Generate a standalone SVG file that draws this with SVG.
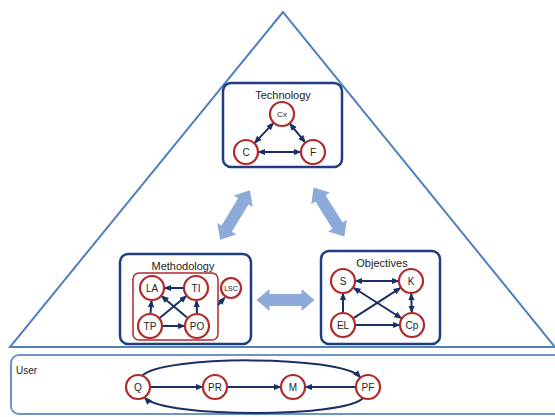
<svg xmlns="http://www.w3.org/2000/svg" width="555" height="417" viewBox="0 0 555 417">
<style>
.box{fill:#fff;stroke:#1f3f80;stroke-width:2.5}
.nd circle{fill:#fff;stroke:#b02a2a;stroke-width:2.2}
.nd text{font-family:"Liberation Sans",Arial,sans-serif;font-size:10px;fill:#222;text-anchor:middle;dominant-baseline:central}
.title{font-family:"Liberation Sans",Arial,sans-serif;font-size:11px;fill:#222;text-anchor:middle}
.e{stroke:#1a2f66;stroke-width:2;fill:none;marker-end:url(#ah)}
.d{marker-start:url(#ah)}
.big{fill:#8eaadb}
</style>
<defs>
<marker id="ah" viewBox="0 0 10 10" refX="8" refY="5" markerWidth="4" markerHeight="4" orient="auto-start-reverse" markerUnits="strokeWidth">
<path d="M0,1 L10,5 L0,9 z" fill="#1a2f66"/>
</marker>
<polygon id="dbl" points="-29,0 -16,-11 -16,-6 16,-6 16,-11 29,0 16,11 16,6 -16,6 -16,11"/>
</defs>
<polygon points="283,12 10,347 555,347" fill="none" stroke="#4f81bd" stroke-width="2"/>
<rect x="11" y="355" width="560" height="59" rx="8" fill="#fff" stroke="#6d93c8" stroke-width="2"/>
<text x="16" y="374" style="font-family:'Liberation Sans',Arial,sans-serif;font-size:10px;fill:#222">User</text>
<g id="bigarrows" class="big">
<use href="#dbl" transform="translate(235,215) rotate(121)"/>
<use href="#dbl" transform="translate(329,212) rotate(58)"/>
<use href="#dbl" transform="translate(285.5,300)"/>
</g>
<g id="technology">
<rect class="box" x="223" y="83" width="119" height="84" rx="8"/>
<text class="title" x="283" y="99">Technology</text>
</g>
<g id="methodology">
<rect class="box" x="120" y="254" width="131" height="90" rx="8"/>
<text class="title" x="183" y="270">Methodology</text>
<rect x="133" y="273" width="85" height="67" rx="6" fill="none" stroke="#b02a2a" stroke-width="1.5"/>
</g>
<g id="objectives">
<rect class="box" x="321" y="251" width="119" height="93" rx="8"/>
<text class="title" x="382" y="267">Objectives</text>
</g>
<g id="connectors">
<line class="e d" x1="273" y1="123.4" x2="255" y2="142.6"/>
<line class="e d" x1="290.2" y1="124.1" x2="304.8" y2="141.9"/>
<line class="e d" x1="259" y1="152" x2="300" y2="152"/>
<line class="e" x1="183" y1="288" x2="165" y2="288"/>
<line class="e" x1="150.5" y1="313" x2="151.5" y2="301"/>
<line class="e" x1="197" y1="313" x2="196.5" y2="301"/>
<line class="e" x1="160" y1="317.7" x2="186" y2="296.3"/>
<line class="e" x1="187" y1="317.6" x2="162" y2="296.4"/>
<line class="e" x1="163" y1="326" x2="184" y2="326"/>
<line class="e" x1="218" y1="305" x2="224.5" y2="298"/>
<line class="e d" x1="356" y1="281" x2="398" y2="281"/>
<line class="e" x1="343" y1="312" x2="343" y2="294"/>
<line class="e d" x1="411.3" y1="294" x2="411.7" y2="312"/>
<line class="e" x1="353.9" y1="317.9" x2="400.1" y2="288.1"/>
<line class="e d" x1="354" y1="288" x2="401" y2="318"/>
<line class="e" x1="356" y1="325" x2="399" y2="325"/>
<line class="e" x1="151" y1="387" x2="202" y2="387"/>
<line class="e" x1="228" y1="387" x2="280" y2="387"/>
<line class="e" x1="355" y1="387" x2="306" y2="387"/>
<path class="e" d="M142,376 C160,355 340,355 360,377"/>
<path class="e" d="M363,398 C345,418 165,418 145,398"/>
</g>
<g id="Cx" class="nd"><circle cx="282" cy="114" r="12"/><text x="282" y="114" style="font-size:8px">Cx</text></g>
<g id="C" class="nd"><circle cx="246" cy="152" r="12"/><text x="246" y="152">C</text></g>
<g id="F" class="nd"><circle cx="313" cy="152" r="12"/><text x="313" y="152">F</text></g>
<g id="LA" class="nd"><circle cx="152" cy="288" r="12"/><text x="152" y="288">LA</text></g>
<g id="TI" class="nd"><circle cx="196" cy="288" r="12"/><text x="196" y="288">TI</text></g>
<g id="TP" class="nd"><circle cx="150" cy="326" r="12"/><text x="150" y="326">TP</text></g>
<g id="PO" class="nd"><circle cx="197" cy="326" r="12"/><text x="197" y="326">PO</text></g>
<g id="LSC" class="nd"><circle cx="231" cy="288" r="10"/><text x="231" y="288" style="font-size:7px">LSC</text></g>
<g id="S" class="nd"><circle cx="343" cy="281" r="12"/><text x="343" y="281">S</text></g>
<g id="K" class="nd"><circle cx="411" cy="281" r="12"/><text x="411" y="281">K</text></g>
<g id="EL" class="nd"><circle cx="343" cy="325" r="12"/><text x="343" y="325">EL</text></g>
<g id="Cp" class="nd"><circle cx="412" cy="325" r="12"/><text x="412" y="325">Cp</text></g>
<g id="Q" class="nd"><circle cx="138" cy="387" r="12"/><text x="138" y="387">Q</text></g>
<g id="PR" class="nd"><circle cx="215" cy="387" r="12"/><text x="215" y="387">PR</text></g>
<g id="M" class="nd"><circle cx="293" cy="387" r="12"/><text x="293" y="387">M</text></g>
<g id="PF" class="nd"><circle cx="368" cy="387" r="12"/><text x="368" y="387">PF</text></g>
</svg>
